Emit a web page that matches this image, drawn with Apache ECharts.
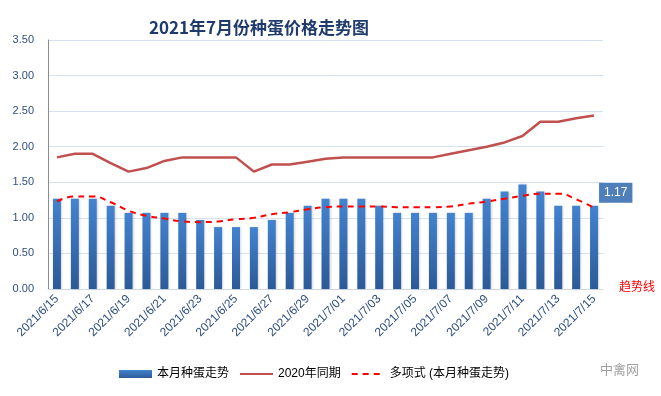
<!DOCTYPE html>
<html><head><meta charset="utf-8">
<script src="https://cdn.jsdelivr.net/npm/echarts@6/dist/echarts.min.js"></script>
<style>html,body{margin:0;padding:0;background:#fff}#c{width:661px;height:396px}</style>
</head><body><div id="c"></div>
<script>
var categories = ['2021/6/15','2021/6/16','2021/6/17','2021/6/18','2021/6/19','2021/6/20','2021/6/21','2021/6/22','2021/6/23','2021/6/24','2021/6/25','2021/6/26','2021/6/27','2021/6/28','2021/6/29','2021/6/30','2021/7/01','2021/7/02','2021/7/03','2021/7/04','2021/7/05','2021/7/06','2021/7/07','2021/7/08','2021/7/09','2021/7/10','2021/7/11','2021/7/12','2021/7/13','2021/7/14','2021/7/15'];
var thisMonth = [1.27,1.27,1.27,1.17,1.07,1.07,1.07,1.07,0.97,0.87,0.87,0.87,0.97,1.07,1.17,1.27,1.27,1.27,1.17,1.07,1.07,1.07,1.07,1.07,1.27,1.37,1.47,1.37,1.17,1.17,1.17];
var lastYear = [1.85,1.90,1.90,1.77,1.65,1.70,1.80,1.85,1.85,1.85,1.85,1.65,1.75,1.75,1.79,1.83,1.85,1.85,1.85,1.85,1.85,1.85,1.90,1.95,2.00,2.06,2.15,2.35,2.35,2.40,2.44];
var trend = [1.23,1.30,1.30,1.22,1.10,1.03,0.99,0.95,0.94,0.95,0.98,1.00,1.05,1.08,1.12,1.15,1.16,1.16,1.16,1.15,1.15,1.15,1.16,1.20,1.23,1.27,1.31,1.34,1.34,1.26,1.14];
var seriesNames = ['本月种蛋走势','2020年同期','多项式 (本月种蛋走势)'];

var barData = thisMonth.map(function(v,i){
  if(i===thisMonth.length-1){
    return {value:v,label:{show:true,position:[9,-23],formatter:function(p){return p.value.toFixed(2);},
      backgroundColor:'#4F7FBA',color:'#fff',padding:[4,5],fontSize:12,fontFamily:'Liberation Sans, sans-serif'}};
  }
  return v;
});

var chart = echarts.init(document.getElementById('c'));
var font = 'Liberation Sans, Noto Sans CJK SC, sans-serif';
chart.setOption({
  animation:false,
  title:{text:'2021年7月份种蛋价格走势图',left:254,textAlign:'center',top:14,
    textStyle:{fontSize:17,fontWeight:'bold',color:'#1F3B6E',fontFamily:'Noto Sans CJK SC, sans-serif'}},
  grid:{left:48,right:58,top:40,bottom:107},
  legend:{left:114,top:363,itemWidth:33,itemHeight:8,itemGap:10,
    textStyle:{fontSize:12,color:'#000',fontFamily:font},
    data:[{name:seriesNames[0],icon:'rect'},
          {name:seriesNames[1],itemStyle:{opacity:0}},
          {name:seriesNames[2],itemStyle:{opacity:0}}]},
  xAxis:{type:'category',data:categories,
    axisLine:{lineStyle:{color:'#D0D7E5'}},axisTick:{show:false},
    axisLabel:{interval:1,rotate:45,color:'#2F4F80',fontSize:12,fontFamily:font,margin:8}},
  yAxis:{type:'value',min:0,max:3.5,interval:0.5,
    axisLine:{show:true,lineStyle:{color:'#8C8C8C'}},
    axisLabel:{color:'#2F4F80',fontSize:11,fontFamily:font,formatter:function(v){return v.toFixed(2);},margin:14},
    splitLine:{lineStyle:{color:'#D6E1F0'}}},
  series:[
    {name:seriesNames[0],type:'bar',data:barData,barWidth:8,
     itemStyle:{color:new echarts.graphic.LinearGradient(0,0,0,1,[{offset:0,color:'#4383D0'},{offset:1,color:'#2C5A98'}]),
       shadowColor:'rgba(0,0,0,0.15)',shadowBlur:2,shadowOffsetX:1}},
    {name:seriesNames[1],type:'line',data:lastYear,symbol:'none',
     lineStyle:{color:'#C0504D',width:2.5},itemStyle:{color:'#C0504D'}},
    {name:seriesNames[2],type:'line',data:trend,symbol:'none',smooth:true,
     lineStyle:{color:'#FF0000',width:2,type:[6,5]},itemStyle:{color:'#FF0000'}}
  ],
  graphic:[
    {type:'text',left:619,top:280,style:{text:'趋势线',fill:'#FF0000',fontSize:12,fontFamily:'Noto Sans CJK SC, sans-serif'}},
    {type:'text',left:600,top:363,style:{text:'中禽网',fill:'#A0A0A0',fontSize:13,fontFamily:'Noto Sans CJK SC, sans-serif'}}
  ]
});
</script></body></html>
